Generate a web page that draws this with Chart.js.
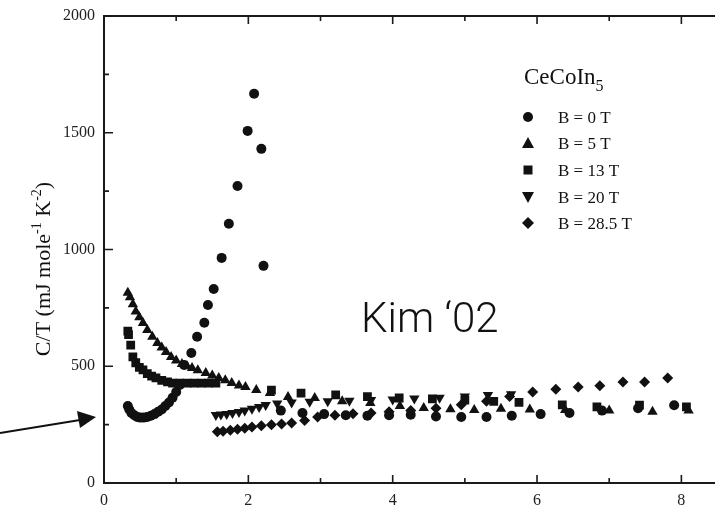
<!DOCTYPE html>
<html>
<head>
<meta charset="utf-8">
<script src="https://cdn.jsdelivr.net/npm/chart.js@4"></script>
<style>
  body { margin: 0; background: #fff; }
  #wrap { width: 715px; height: 507px; position: relative; }
</style>
</head>
<body>
<div id="wrap"><canvas id="cv"></canvas></div>
<script>
// temperature (K) and C/T (mJ mole^-1 K^-2)
const b0x = [0.33, 0.35, 0.38, 0.42, 0.46, 0.50, 0.55, 0.60, 0.65, 0.70, 0.75, 0.80, 0.85, 0.90, 0.95, 1.00, 1.05, 1.11, 1.21, 1.29, 1.39, 1.44, 1.52, 1.63, 1.73, 1.85, 1.99, 2.08, 2.18, 2.21,
             2.45, 2.75, 3.05, 3.35, 3.65, 3.95, 4.25, 4.60, 4.95, 5.30, 5.65, 6.05, 6.45, 6.90, 7.40, 7.90];
const b0y = [330, 315, 300, 290, 283, 280, 280, 283, 288, 295, 305, 315, 330, 345, 365, 390, 420, 505, 557, 626, 686, 762, 831, 964, 1110, 1272, 1508, 1667, 1431, 930,
             310, 300, 295, 290, 288, 290, 292, 285, 283, 283, 288, 295, 300, 310, 320, 333];

const b5x = [0.33, 0.36, 0.40, 0.44, 0.49, 0.54, 0.60, 0.67, 0.74, 0.80, 0.86, 0.93, 1.00, 1.08, 1.15, 1.22, 1.30, 1.41, 1.50, 1.59, 1.68, 1.77, 1.87, 1.96, 2.11,
             2.30, 2.55, 2.92, 3.30, 3.69, 4.10, 4.43, 4.80, 5.13, 5.50, 5.90, 6.39, 7.00, 7.60, 8.10];
const b5y = [815, 795, 765, 735, 710, 685, 655, 626, 600, 580, 561, 540, 525, 510, 500, 493, 483, 471, 460, 450, 440, 428, 418, 411, 398,
             385, 368, 364, 350, 343, 330, 321, 316, 313, 318, 315, 313, 310, 305, 310];

const b13x = [0.33, 0.34, 0.37, 0.40, 0.44, 0.49, 0.54, 0.60, 0.66, 0.72, 0.80, 0.88, 0.95, 1.05, 1.15, 1.25, 1.35, 1.45, 1.55,
              2.32, 2.73, 3.21, 3.65, 4.09, 4.55, 5.00, 5.40, 5.75, 6.35, 6.83, 7.42, 8.07];
const b13y = [650, 635, 590, 540, 515, 495, 484, 468, 458, 450, 440, 433, 428, 428, 428, 428, 428, 428, 428,
              398, 385, 377, 370, 364, 360, 355, 350, 345, 335, 326, 334, 326];

const b20x = [1.55, 1.62, 1.70, 1.78, 1.87, 1.95, 2.05, 2.15, 2.24, 2.40, 2.60, 2.85, 3.10, 3.40, 3.70, 4.00, 4.30, 4.65, 5.00, 5.32, 5.64];
const b20y = [291, 293, 296, 300, 304, 310, 318, 326, 334, 340, 345, 348, 350, 352, 355, 358, 362, 365, 370, 377, 380];

const b28x = [1.57, 1.65, 1.75, 1.85, 1.95, 2.05, 2.18, 2.32, 2.46, 2.60, 2.78, 2.96, 3.20, 3.45, 3.70, 3.95, 4.25, 4.60, 4.95, 5.30, 5.62, 5.94, 6.26, 6.57, 6.87, 7.19, 7.49, 7.81];
const b28y = [219, 222, 226, 230, 235, 240, 245, 250, 253, 257, 268, 283, 290, 297, 300, 305, 310, 320, 335, 350, 370, 390, 402, 411, 416, 433, 433, 450];

const seriesLabels = ["B = 0 T", "B = 5 T", "B = 13 T", "B = 20 T", "B = 28.5 T"];

function pts(xs, ys) {
  return xs.map((x, i) => ({ x: x, y: ys[i] }));
}

const serif = "'Liberation Serif', 'DejaVu Serif', serif";
const ink = "#111";

// frame, inward ticks, legend, annotations
const decor = {
  id: "decor",
  beforeDatasetsDraw(chart) {
    const ctx = chart.ctx;
    const xs = chart.scales.x, ys = chart.scales.y;
    const a = chart.chartArea;
    ctx.save();
    ctx.strokeStyle = "#1a1a1a";
    ctx.lineWidth = 2;
    ctx.beginPath();
    ctx.moveTo(a.left, a.top); ctx.lineTo(a.left, a.bottom);
    ctx.moveTo(a.left - 1, a.bottom); ctx.lineTo(715, a.bottom);
    ctx.moveTo(a.left - 1, a.top); ctx.lineTo(715, a.top);
    ctx.stroke();
    ctx.lineWidth = 1.6;
    ctx.beginPath();
    xs.ticks.forEach(t => {
      const px = xs.getPixelForValue(t.value);
      const len = t.value % 2 === 0 ? 8 : 5;
      ctx.moveTo(px, a.bottom); ctx.lineTo(px, a.bottom - len);
      ctx.moveTo(px, a.top); ctx.lineTo(px, a.top + len);
    });
    ys.ticks.forEach(t => {
      const py = ys.getPixelForValue(t.value);
      const len = t.value % 500 === 0 ? 9 : 5;
      ctx.moveTo(a.left, py); ctx.lineTo(a.left + len, py);
    });
    ctx.stroke();
    ctx.restore();
  },
  afterDraw(chart) {
    const ctx = chart.ctx;
    ctx.save();
    ctx.fillStyle = ink;

    // y axis title
    ctx.save();
    ctx.translate(50, 269);
    ctx.rotate(-Math.PI / 2);
    ctx.textBaseline = "alphabetic";
    const parts = [["C/T (mJ mole", 0], ["-1", 1], [" K", 0], ["-2", 1], [")", 0]];
    let w = 0;
    parts.forEach(p => {
      ctx.font = (p[1] ? "14px " : "22px ") + serif;
      w += ctx.measureText(p[0]).width;
    });
    let cx = -w / 2;
    parts.forEach(p => {
      ctx.font = (p[1] ? "14px " : "22px ") + serif;
      ctx.fillText(p[0], cx, p[1] ? -9 : 0);
      cx += ctx.measureText(p[0]).width;
    });
    ctx.restore();

    // legend title
    ctx.font = "23px " + serif;
    ctx.textAlign = "left";
    ctx.fillText("CeCoIn", 524, 84);
    const tw = ctx.measureText("CeCoIn").width;
    ctx.font = "16px " + serif;
    ctx.fillText("5", 524 + tw, 91);

    // legend rows
    const rows = [117, 143, 170, 197, 223];
    const shapes = ["circle", "tri", "rect", "tridown", "diamond"];
    ctx.font = "17px " + serif;
    rows.forEach((ry, i) => {
      const mx = 528;
      ctx.beginPath();
      if (shapes[i] === "circle") {
        ctx.arc(mx, ry, 5, 0, Math.PI * 2);
      } else if (shapes[i] === "tri") {
        ctx.moveTo(mx, ry - 6); ctx.lineTo(mx + 6, ry + 5); ctx.lineTo(mx - 6, ry + 5);
      } else if (shapes[i] === "rect") {
        ctx.rect(mx - 4.5, ry - 4.5, 9, 9);
      } else if (shapes[i] === "tridown") {
        ctx.moveTo(mx - 6, ry - 5); ctx.lineTo(mx + 6, ry - 5); ctx.lineTo(mx, ry + 6);
      } else {
        ctx.moveTo(mx, ry - 6); ctx.lineTo(mx + 6, ry); ctx.lineTo(mx, ry + 6); ctx.lineTo(mx - 6, ry);
      }
      ctx.closePath();
      ctx.fill();
      ctx.fillText(seriesLabels[i], 558, ry + 6);
    });

    // annotation text
    ctx.font = "300 42px Roboto, Lato, 'Open Sans', sans-serif";
    ctx.fillText("Kim \u201802", 361, 332);

    // arrow
    ctx.strokeStyle = ink;
    ctx.lineWidth = 2;
    ctx.beginPath();
    ctx.moveTo(0, 433); ctx.lineTo(80, 420);
    ctx.stroke();
    ctx.beginPath();
    ctx.moveTo(96, 417);
    ctx.lineTo(77, 411);
    ctx.lineTo(80, 428);
    ctx.closePath();
    ctx.fill();
    ctx.restore();
  }
};

function ds(label, xs, ys, style, r, rot) {
  return {
    label: label,
    data: pts(xs, ys),
    pointStyle: style,
    pointRadius: r,
    pointRotation: rot || 0,
    pointBackgroundColor: ink,
    pointBorderColor: ink,
    pointBorderWidth: 0,
    showLine: false
  };
}

new Chart(document.getElementById("cv"), {
  type: "scatter",
  data: {
    datasets: [
      ds(seriesLabels[0], b0x, b0y, "circle", 5),
      ds(seriesLabels[1], b5x, b5y, "triangle", 6),
      ds(seriesLabels[2], b13x, b13y, "rect", 6.2),
      ds(seriesLabels[3], b20x, b20y, "triangle", 6, 180),
      ds(seriesLabels[4], b28x, b28y, "rectRot", 5.5)
    ]
  },
  options: {
    responsive: true,
    maintainAspectRatio: false,
    animation: false,
    layout: { padding: { top: 16, left: 0, right: 0, bottom: 0 } },
    plugins: { legend: { display: false }, tooltip: { enabled: false } },
    scales: {
      x: {
        type: "linear",
        min: 0,
        max: 8.38,
        grid: { display: false },
        border: { display: false },
        afterBuildTicks: s => { s.ticks = [0, 1, 2, 3, 4, 5, 6, 7, 8].map(v => ({ value: v })); },
        afterFit: s => { s.height = 24; },
        ticks: {
          autoSkip: false,
          maxRotation: 0,
          padding: 0,
          color: "#222",
          font: { family: serif, size: 16 },
          callback: v => (v % 2 === 0 ? String(v) : "")
        }
      },
      y: {
        min: 0,
        max: 2000,
        grid: { display: false },
        border: { display: false },
        afterBuildTicks: s => { s.ticks = [0, 250, 500, 750, 1000, 1250, 1500, 1750, 2000].map(v => ({ value: v })); },
        afterFit: s => { s.width = 104; },
        ticks: {
          autoSkip: false,
          padding: 1,
          color: "#222",
          font: { family: serif, size: 16 },
          callback: v => (v % 500 === 0 ? String(v) : "")
        }
      }
    }
  },
  plugins: [decor]
});
</script>
</body>
</html>
